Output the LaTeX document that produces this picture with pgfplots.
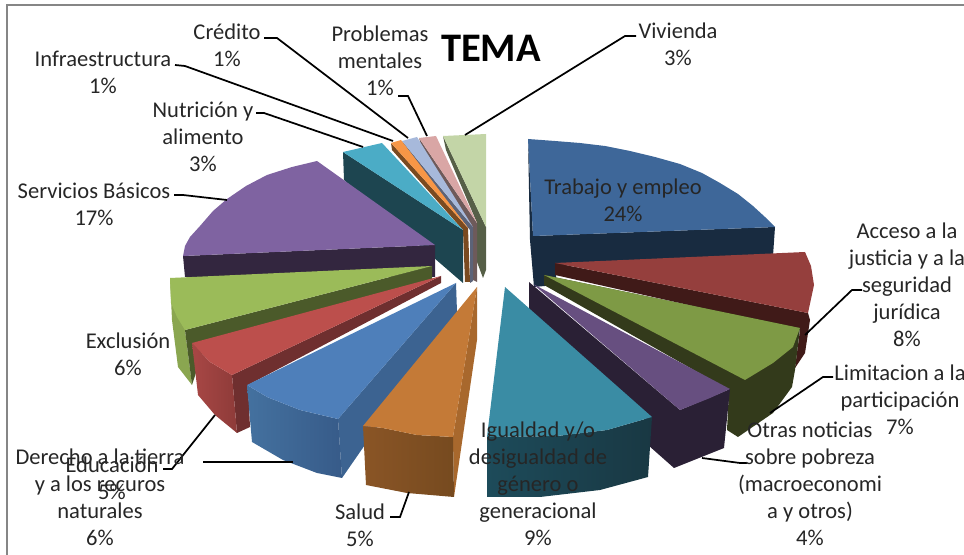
\documentclass[border=0pt]{standalone}
\usepackage{pgfplots}
\pgfplotsset{compat=1.18}
\usepackage{fontspec}
\setmainfont{Carlito}
\definecolor{txt}{HTML}{262626}
\definecolor{cFrame}{HTML}{868686}
\definecolor{bluT}{HTML}{3E6799}\definecolor{bluS}{HTML}{182B40}
\definecolor{redT}{HTML}{953F3D}\definecolor{redS}{HTML}{401A18}
\definecolor{grnT}{HTML}{7E9A45}\definecolor{grnS}{HTML}{333A1B}
\definecolor{purT}{HTML}{674F80}\definecolor{purS}{HTML}{2A2035}
\definecolor{tealT}{HTML}{3A8CA4}\definecolor{tealA}{HTML}{1D4B5A}\definecolor{tealB}{HTML}{193843}
\definecolor{oraT}{HTML}{C47A37}\definecolor{oraR}{HTML}{A8682D}\definecolor{oraA}{HTML}{8A5526}\definecolor{oraB}{HTML}{764A1F}
\definecolor{bl2T}{HTML}{4E7FBA}\definecolor{bl2R}{HTML}{3C6391}\definecolor{bl2A}{HTML}{44719F}\definecolor{bl2B}{HTML}{375B89}
\definecolor{rd2T}{HTML}{BC4F4C}\definecolor{rd2R}{HTML}{6F2F2F}\definecolor{rd2A}{HTML}{A84745}\definecolor{rd2B}{HTML}{8E3B39}
\definecolor{gr2T}{HTML}{9BBB59}\definecolor{gr2R}{HTML}{4B5A2A}\definecolor{gr2F}{HTML}{8AA650}
\definecolor{pu2T}{HTML}{7F63A1}\definecolor{pu2S}{HTML}{33263F}
\definecolor{tesT}{HTML}{4BACC6}\definecolor{tesS}{HTML}{1D4550}
\definecolor{orsT}{HTML}{F79646}\definecolor{orsS}{HTML}{7A4A20}
\definecolor{lbsT}{HTML}{A7B9DB}\definecolor{lbsS}{HTML}{5C6378}
\definecolor{pksT}{HTML}{D9A6A5}\definecolor{pksS}{HTML}{6E5A5A}
\definecolor{lgsT}{HTML}{C3D5A7}\definecolor{lgsS}{HTML}{565F47}
\newcommand{\lab}[3]{\node[align=center,font=\fontsize{16.9pt}{20.25pt}\selectfont,text=txt,inner sep=0pt] at (axis cs:#1,#2) {#3};}
\begin{document}
\begin{tikzpicture}
\useasboundingbox (0,0) rectangle (723pt,416.25pt);
\clip (0,0) rectangle (723pt,416.25pt);
\begin{axis}[at={(0,0)},anchor=south west,scale only axis,width=723pt,height=416.25pt,
 xmin=0,xmax=964,ymin=0,ymax=555,y dir=reverse,axis lines=none,clip=false,no markers]
% frame
\addplot[draw=cFrame,line width=2pt] coordinates {(7,560) (7,5) (970,5)};
% back small slices
\addplot[fill=lgsS,draw=none] coordinates {(443,136)(486,227)(486,270)(483,278)(477,262)(477,223)(446,150)};
\addplot[fill=lgsT,draw=none] coordinates {(443,136)(486,134)(486,227)};
\addplot[fill=pksS,draw=none] coordinates {(419,138)(477,223)(477,282)(473,280)(473,228)(421,145)};
\addplot[fill=pksT,draw=none] coordinates {(419,138)(436,136)(477,223)};
\addplot[fill=lbsS,draw=none] coordinates {(402,141)(473,227)(473,281)(470,283)(470,230)(404,147)};
\addplot[fill=lbsT,draw=none] coordinates {(402,141)(417,137)(473,227)};
\addplot[fill=orsS,draw=none] coordinates {(391,143)(468,228)(470,282)(465,282)(463,230)(392,150)};
\addplot[fill=orsT,draw=none] coordinates {(391,143)(401,140)(468,228)};
\addplot[fill=tesS,draw=none] coordinates {(343,152)(463,230)(463,283)(344,180)};
\addplot[fill=tesT,draw=none] coordinates {(343,152)(382,143)(463,230)};
% Servicios
\addplot[fill=pu2S,draw=none] coordinates {(183,256)(435,245)(435,277)(185,277)};
\addplot[fill=pu2T,draw=none] coordinates {(317,161)(435,245)(183,256)(185,246)(190,237)(200,226)(213,211)(227,199)(246,186)(267,175)(292,167)};
% Exclusion
\addplot[fill=gr2F,draw=none] coordinates {(170,278)(185,330)(192,385)(178,367)(172,320)};
\addplot[fill=gr2R,draw=none] coordinates {(432,266)(185,330)(192,385)(205,345)(432,280)};
\addplot[fill=gr2T,draw=none] coordinates {(432,266)(170,278)(171,303)(177,317)(185,330)};
% Derecho
\addplot[fill=rd2R,draw=none] coordinates {(441,276)(232,375)(237,433)(250,427)(248,385)(441,283)};
\addplot[left color=rd2A,right color=rd2B,draw=none] coordinates {(192,343)(210,362)(232,375)(237,433)(215,415)(198,395)};
\addplot[fill=rd2T,draw=none] coordinates {(441,276)(192,343)(210,362)(232,375)};
% Educacion
\addplot[fill=bl2R,draw=none] coordinates {(456,283)(338,419)(342,478)(457,312)};
\addplot[left color=bl2A,right color=bl2B,draw=none] coordinates {(247,385)(267,397)(300,410)(338,419)(342,478)(317,473)(283,460)(252,442)};
\addplot[fill=bl2T,draw=none] coordinates {(456,283)(247,385)(267,397)(300,410)(338,419)};
% Salud
\addplot[fill=oraR,draw=none] coordinates {(477,287)(477,340)(454,497)(453,437)};
\addplot[left color=oraA,right color=oraB,draw=none] coordinates {(363,426)(383,428)(417,435)(453,437)(454,497)(407,493)(366,485)};
\addplot[fill=oraT,draw=none] coordinates {(477,287)(363,426)(383,428)(417,435)(453,437)};
% Trabajo
\addplot[fill=bluS,draw=none] coordinates {(528,139)(533,236)(775,227)(773,256)(556,266)(556,285)(534,287)(530,240)};
\addplot[fill=bluT,draw=none] coordinates {(528,139)(555,141)(580,143)(605,146)(630,151)(655,157)(680,164)(702,173)(720,183)(738,194)(753,206)(765,217)(775,227)(533,236)};
% Acceso
\addplot[fill=redS,draw=none] coordinates {(555,263)(808,313)(810,320)(805,353)(795,368)(800,330)(555,275)};
\addplot[fill=redT,draw=none] coordinates {(555,263)(805,252)(811,266)(814,285)(808,313)};
% Limitacion
\addplot[fill=grnS,draw=none] coordinates {(544,275)(800,328)(795,370)(792,387)(773,413)(738,437)(727,430)(729,390)(544,285)};
\addplot[fill=grnT,draw=none] coordinates {(544,275)(800,328)(793,347)(773,363)(745,380)};
% Otras
\addplot[fill=purS,draw=none] coordinates {(529,282)(680,410)(730,389)(724,448)(674,468)(648,445)(648,422)(529,312)};
\addplot[fill=purT,draw=none] coordinates {(533,284)(730,389)(710,398)(680,410)};
% Igualdad
\addplot[left color=tealA,right color=tealB,draw=none] coordinates {(487,437)(557,436)(607,430)(652,417)(648,477)(600,490)(540,497)(487,497)};
\addplot[fill=tealT,draw=none] coordinates {(505,287)(652,417)(607,430)(557,436)(487,437)};
% leader lines
\addplot[black,line width=1.3pt] coordinates {(264,38)(277,38)(408,138)};
\addplot[black,line width=1.3pt] coordinates {(175,65)(185,66)(393,141)};
\addplot[black,line width=1.3pt] coordinates {(256,113)(264,113)(363,147)};
\addplot[black,line width=1.3pt] coordinates {(398,96)(408,96)(427,136)};
\addplot[black,line width=1.3pt] coordinates {(636,36)(625,36)(465,135)};
\addplot[black,line width=1.3pt] coordinates {(174,195)(183,195)(227,200)};
\addplot[black,line width=1.3pt] coordinates {(862,290)(852,290)(805,335)};
\addplot[black,line width=1.3pt] coordinates {(833,377)(823,377)(770,413)};
\addplot[black,line width=1.3pt] coordinates {(747,463)(740,463)(702,458)};
\addplot[black,line width=1.3pt] coordinates {(390,517)(400,517)(409,492)};
\addplot[black,line width=1.3pt] coordinates {(203,462)(293,462)};
\addplot[black,line width=1.3pt] coordinates {(163,469)(172,469)(215,415)};
% labels
\node[font=\fontsize{30.4pt}{32pt}\selectfont\bfseries,text=black,inner sep=0pt] at (axis cs:491,48) {TEMA};
\lab{678}{44}{Vivienda\\3\%}
\lab{227}{45}{Crédito\\1\%}
\lab{380}{61}{Problemas\\mentales\\1\%}
\lab{103}{72}{Infraestructura\\1\%}
\lab{203}{137}{Nutrición y\\alimento\\3\%}
\lab{94}{204}{Servicios Básicos\\17\%}
\lab{623}{200}{Trabajo y empleo\\24\%}
\lab{907}{285}{Acceso a la\\justicia y a la\\seguridad\\jurídica\\8\%}
\lab{900}{400}{Limitacion a la\\participación\\7\%}
\lab{810}{484}{Otras noticias\\sobre pobreza\\(macroeconomi\\a y otros)\\4\%}
\lab{538}{484}{Igualdad y/o\\desigualdad de\\género o\\generacional\\9\%}
\lab{360}{525}{Salud\\5\%}
\lab{128}{354}{Exclusión\\6\%}
\lab{112}{478}{Educación\\5\%}
\lab{100}{497}{Derecho a la tierra\\y a los recuros\\naturales\\6\%}
\end{axis}
\end{tikzpicture}
\end{document}
